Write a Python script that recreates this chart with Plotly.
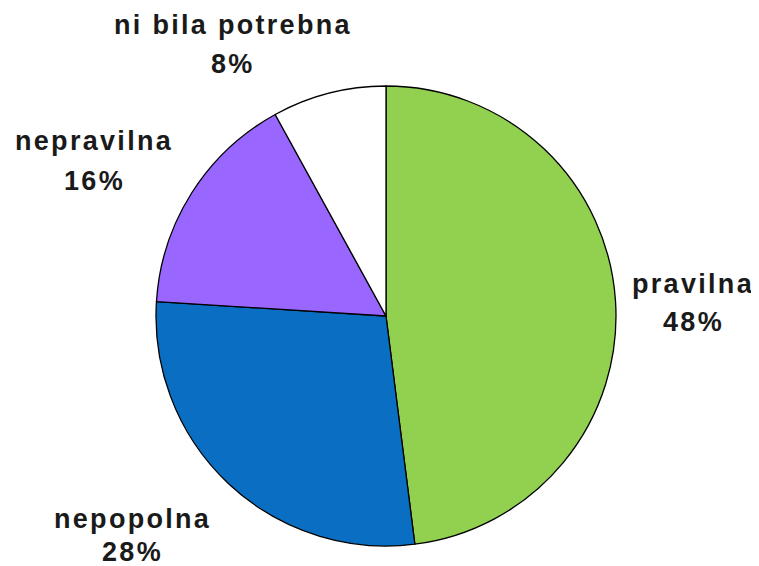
import plotly.graph_objects as go

labels = ['pravilna', 'nepopolna', 'nepravilna', 'ni bila potrebna']
values = [48, 28, 16, 8]
colors = ['#92D050', '#0A6FC2', '#9966FF', '#FFFFFF']

W, H = 759, 566
OFF = 8  # page body margin shifts the plot by 8px

# label centres in pixels of the picture (x, name line y, percent line y)
label_pos = [(693, 284, 322), (132, 519, 552), (94, 141, 181), (233, 25, 64)]

fig = go.Figure()
fig.add_trace(go.Pie(
    labels=labels,
    values=values,
    sort=False,
    direction='clockwise',
    rotation=0,
    marker=dict(colors=colors, line=dict(color='black', width=1.3)),
    textinfo='none',
    hoverinfo='label+percent',
    domain=dict(x=[(156 - OFF) / W, (616 - OFF) / W],
                y=[1 - (546 - OFF) / H, 1 - (86 - OFF) / H]),
    showlegend=False,
))

fnt = dict(family='Liberation Sans, Arial', size=27, color='#1a1a1a')


def spaced(s):
    return '<span style="letter-spacing:2.3px"><b>' + s + '</b></span>'


for lab, v, (px, py1, py2) in zip(labels, values, label_pos):
    fig.add_annotation(x=(px - OFF) / W, y=1 - (py1 - OFF) / H, xref='paper', yref='paper',
                       text=spaced(lab), showarrow=False, font=fnt,
                       xanchor='center', yanchor='middle')
    fig.add_annotation(x=(px - OFF) / W, y=1 - (py2 - OFF) / H, xref='paper', yref='paper',
                       text=spaced('%d%%' % v), showarrow=False, font=fnt,
                       xanchor='center', yanchor='middle')

fig.update_layout(
    width=W, height=H,
    margin=dict(l=0, r=0, t=0, b=0),
    paper_bgcolor='white',
    plot_bgcolor='white',
)

fig.write_html("out.html")
